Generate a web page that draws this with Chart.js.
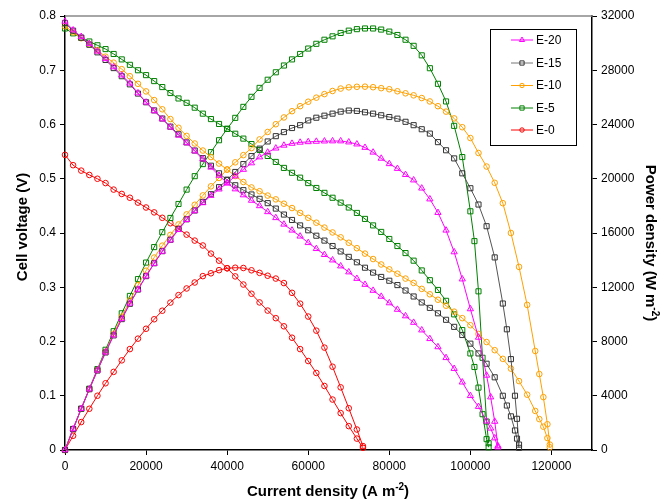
<!DOCTYPE html>
<html>
<head>
<meta charset="utf-8">
<script src="https://cdn.jsdelivr.net/npm/chart.js@4.4.0/dist/chart.umd.min.js"></script>
<style>
  html, body { margin: 0; padding: 0; background: #fff; }
  #wrap { width: 669px; height: 502px; position: relative; }
</style>
</head>
<body>
<div id="wrap"><canvas id="chart"></canvas></div>
<script>
// current density (A m-2), cell voltage (V), power density (W m-2) per membrane
const currentE20 = [0,2000,4000,6000,8000,10000,12000,14000,16000,18000,20000,22000,24000,26000,28000,30000,32000,34000,36000,38000,40000,42000,44000,46000,48000,50000,52000,54000,56000,58000,60000,62000,64000,66000,68000,70000,72000,74000,76000,78000,80000,82000,84000,86000,88000,90000,92000,94000,96000,98000,100000,102000,104000,105000,106000,106800];
const voltageE20 = [0.790,0.774,0.762,0.749,0.735,0.721,0.706,0.691,0.676,0.658,0.641,0.625,0.610,0.595,0.580,0.566,0.551,0.536,0.521,0.506,0.492,0.481,0.470,0.460,0.450,0.439,0.428,0.416,0.405,0.394,0.382,0.371,0.360,0.350,0.339,0.328,0.316,0.305,0.294,0.283,0.271,0.259,0.247,0.235,0.221,0.205,0.190,0.170,0.150,0.125,0.100,0.080,0.053,0.040,0.022,0.005];
const powerE20 = [0,1550,3050,4490,5880,7210,8470,9670,10820,11840,12820,13750,14640,15470,16240,16980,17630,18220,18760,19230,19680,20200,20680,21160,21600,21950,22250,22460,22600,22680,22720,22750,22770,22780,22780,22700,22550,22300,21950,21500,21100,20750,20300,19900,19300,18500,17500,16200,14600,12600,10400,8300,5500,3900,2100,300];

const currentE15 = [0,2000,4000,6000,8000,10000,12000,14000,16000,18000,20000,22000,24000,26000,28000,30000,32000,34000,36000,38000,40000,42000,44000,46000,48000,50000,52000,54000,56000,58000,60000,62000,64000,66000,68000,70000,72000,74000,76000,78000,80000,82000,84000,86000,88000,90000,92000,94000,96000,98000,100000,102000,104000,106000,108000,109000,110000,111000,111500,112000];
const voltageE15 = [0.787,0.773,0.760,0.747,0.733,0.719,0.704,0.689,0.674,0.657,0.641,0.626,0.611,0.596,0.582,0.567,0.552,0.538,0.524,0.510,0.498,0.488,0.479,0.471,0.463,0.455,0.445,0.434,0.424,0.414,0.405,0.395,0.386,0.376,0.366,0.356,0.346,0.336,0.327,0.319,0.312,0.304,0.294,0.283,0.272,0.262,0.252,0.240,0.227,0.212,0.196,0.178,0.159,0.134,0.100,0.082,0.062,0.036,0.021,0.004];
const powerE15 = [0,1550,3040,4480,5860,7190,8450,9650,10780,11830,12820,13770,14660,15500,16300,17010,17660,18290,18860,19380,19920,20500,21080,21670,22220,22750,23140,23440,23740,23950,24300,24500,24650,24800,24950,25030,25000,24900,24800,24680,24550,24430,24200,23950,23650,23330,22700,22100,21500,20400,19300,18100,16500,14200,10800,8900,6700,4000,2300,400];

const currentE10 = [0,2000,4000,6000,8000,10000,12000,14000,16000,18000,20000,22000,24000,26000,28000,30000,32000,34000,36000,38000,40000,42000,44000,46000,48000,50000,52000,54000,56000,58000,60000,62000,64000,66000,68000,70000,72000,74000,76000,78000,80000,82000,84000,86000,88000,90000,92000,94000,96000,98000,100000,102000,104000,106000,108000,110000,112000,114000,116000,117000,118000,119000,119600];
const voltageE10 = [0.781,0.770,0.759,0.748,0.737,0.725,0.714,0.702,0.689,0.675,0.661,0.645,0.628,0.610,0.594,0.579,0.565,0.552,0.540,0.528,0.517,0.505,0.494,0.484,0.477,0.469,0.462,0.454,0.446,0.437,0.428,0.419,0.410,0.401,0.392,0.382,0.372,0.362,0.352,0.342,0.333,0.325,0.316,0.308,0.297,0.287,0.277,0.266,0.255,0.243,0.230,0.214,0.199,0.184,0.168,0.150,0.127,0.102,0.072,0.057,0.043,0.022,0.005];
const powerE10 = [0,1540,3040,4490,5900,7250,8570,9830,11020,12150,13220,14190,15070,15860,16630,17370,18080,18770,19440,20060,20680,21210,21740,22260,22900,23450,24020,24520,24980,25350,25680,25980,26240,26470,26650,26740,26780,26790,26750,26680,26600,26450,26300,26150,25950,25700,25350,24950,24450,23800,23000,21900,20900,19700,18200,16000,13500,10700,7300,5600,3900,1900,400];

const currentE5 = [0,2000,4000,6000,8000,10000,12000,14000,16000,18000,20000,22000,24000,26000,28000,30000,32000,34000,36000,38000,40000,42000,44000,46000,48000,50000,52000,54000,56000,58000,60000,62000,64000,66000,68000,70000,72000,74000,76000,78000,80000,82000,84000,86000,88000,90000,92000,94000,96000,98000,100000,101000,102000,103000,104000,104500];
const voltageE5 = [0.777,0.768,0.760,0.753,0.746,0.739,0.730,0.720,0.710,0.700,0.691,0.680,0.669,0.658,0.648,0.640,0.631,0.620,0.610,0.601,0.592,0.583,0.574,0.564,0.553,0.542,0.531,0.520,0.511,0.502,0.492,0.483,0.474,0.465,0.456,0.447,0.437,0.426,0.414,0.402,0.389,0.376,0.363,0.349,0.331,0.313,0.295,0.275,0.250,0.221,0.178,0.153,0.115,0.066,0.020,0.005];
const powerE5 = [0,1540,3040,4520,5970,7390,8760,10080,11360,12600,13820,14960,16060,17110,18140,19200,20190,21080,21960,22840,23680,24490,25300,26040,26700,27300,27850,28350,28800,29200,29600,29950,30250,30500,30750,30920,31030,31080,31080,31000,30850,30600,30250,29800,29100,28150,27000,25700,23900,21600,17600,15400,11700,6800,2100,500];

const currentE0 = [0,2000,4000,6000,8000,10000,12000,14000,16000,18000,20000,22000,24000,26000,28000,30000,32000,34000,36000,38000,40000,42000,44000,46000,48000,50000,52000,54000,56000,58000,60000,62000,64000,66000,68000,70000,72000,73500];
const voltageE0 = [0.544,0.525,0.515,0.507,0.500,0.492,0.480,0.472,0.465,0.456,0.447,0.438,0.428,0.418,0.408,0.397,0.386,0.377,0.362,0.349,0.335,0.320,0.305,0.288,0.272,0.257,0.243,0.228,0.207,0.186,0.164,0.142,0.118,0.093,0.068,0.044,0.021,0.004];
const powerE0 = [0,1050,2060,3040,4000,4920,5760,6610,7440,8210,8940,9640,10270,10870,11420,11910,12350,12820,13030,13260,13400,13440,13420,13250,13060,12850,12640,12310,11590,10790,9840,8800,7550,6140,4620,3080,1510,290];

const seriesLabels = ['E-20', 'E-15', 'E-10', 'E-5', 'E-0'];
const xTicks = [0, 20000, 40000, 60000, 80000, 100000, 120000];

const series = [
  { label: 'E-20', cur: currentE20, v: voltageE20, p: powerE20, color: '#FF00FF', line: '#FF00FF', marker: 'triangle', r: 3.6 },
  { label: 'E-15', cur: currentE15, v: voltageE15, p: powerE15, color: '#333333', line: '#555555', marker: 'rect', r: 3.6 },
  { label: 'E-10', cur: currentE10, v: voltageE10, p: powerE10, color: '#FFA000', line: '#FFA000', marker: 'circle', r: 2.8 },
  { label: 'E-5',  cur: currentE5,  v: voltageE5,  p: powerE5,  color: '#008000', line: '#008000', marker: 'rect', r: 3.6 },
  { label: 'E-0',  cur: currentE0,  v: voltageE0,  p: powerE0,  color: '#FF0000', line: '#FF0000', marker: 'circle', r: 2.8 }
];

function toPoints(xs, ys) {
  return xs.map((x, i) => ({ x: x, y: ys[i] }));
}

const datasets = [];
series.forEach(s => {
  [['v', 'yV'], ['p', 'yP']].forEach(pair => {
    datasets.push({
      label: s.label,
      data: toPoints(s.cur, s[pair[0]]),
      yAxisID: pair[1],
      borderColor: s.line,
      borderWidth: 1,
      pointStyle: s.marker,
      pointRadius: s.r,
      pointBorderColor: s.color,
      pointBorderWidth: 1,
      pointBackgroundColor: 'rgba(255,255,255,0)',
      pointHoverRadius: s.r,
      fill: false,
      tension: 0,
      clip: false
    });
  });
});

const FONT = '"Liberation Sans", Arial, sans-serif';

// legend box, axis titles, grey top border
const decorPlugin = {
  id: 'decor',
  afterDraw(chart) {
    const ctx = chart.ctx;
    const area = chart.chartArea;
    ctx.save();

    ctx.strokeStyle = '#888888';
    ctx.lineWidth = 1.5;
    ctx.beginPath();
    ctx.moveTo(area.left, area.top);
    ctx.lineTo(area.right, area.top);
    ctx.stroke();

    // legend
    const bx = 490.5, by = 29.5, bw = 86, bh = 116;
    ctx.fillStyle = '#fff';
    ctx.fillRect(bx, by, bw, bh);
    ctx.strokeStyle = '#000';
    ctx.lineWidth = 1;
    ctx.strokeRect(bx, by, bw, bh);
    const rows = [40, 63, 85.5, 108, 130];
    series.forEach((s, i) => {
      const y = rows[i];
      ctx.strokeStyle = s.line === '#555555' ? '#777777' : s.line;
      ctx.lineWidth = 1;
      ctx.beginPath();
      ctx.moveTo(511, y);
      ctx.lineTo(533, y);
      ctx.stroke();
      ctx.strokeStyle = s.color;
      ctx.fillStyle = 'rgba(255,255,255,0)';
      Chart.helpers.drawPoint(ctx, { pointStyle: s.marker, radius: s.r - 0.6, borderWidth: 1 }, 522, y);
      ctx.fillStyle = '#000';
      ctx.font = '12px ' + FONT;
      ctx.textAlign = 'left';
      ctx.textBaseline = 'middle';
      ctx.fillText(s.label, 536, y + 0.5);
    });

    // axis titles
    ctx.fillStyle = '#000';
    ctx.textBaseline = 'middle';

    ctx.save();
    ctx.translate(23, 227);
    ctx.rotate(-Math.PI / 2);
    ctx.font = 'bold 15px ' + FONT;
    ctx.textAlign = 'center';
    ctx.fillText('Cell voltage (V)', 0, 0);
    ctx.restore();

    drawSupTitle(ctx, 'Current density (A m', '-2', ')', 328, 492, 0);
    drawSupTitle(ctx, 'Power density (W m', '-2', ')', 650, 243, Math.PI / 2);

    ctx.restore();
  }
};

function drawSupTitle(ctx, main, sup, tail, cx, cy, angle) {
  ctx.save();
  ctx.translate(cx, cy);
  ctx.rotate(angle);
  const big = 'bold 15px ' + FONT;
  const small = 'bold 10px ' + FONT;
  ctx.font = big;
  const w1 = ctx.measureText(main).width;
  const w3 = ctx.measureText(tail).width;
  ctx.font = small;
  const w2 = ctx.measureText(sup).width;
  let x = -(w1 + w2 + w3) / 2;
  ctx.textAlign = 'left';
  ctx.textBaseline = 'middle';
  ctx.font = big;
  ctx.fillText(main, x, 0);
  x += w1;
  ctx.font = small;
  ctx.fillText(sup, x, -5);
  x += w2;
  ctx.font = big;
  ctx.fillText(tail, x, 0);
  ctx.restore();
}

const tickFont = { family: FONT, size: 12 };

new Chart(document.getElementById('chart'), {
  type: 'line',
  data: { datasets: datasets },
  options: {
    responsive: true,
    maintainAspectRatio: false,
    animation: false,
    parsing: true,
    layout: { padding: { top: 16, right: 0, bottom: 0, left: 0 } },
    plugins: {
      legend: { display: false },
      tooltip: { enabled: false }
    },
    scales: {
      x: {
        type: 'linear',
        min: 0,
        max: 130000,
        afterBuildTicks: scale => { scale.ticks = xTicks.map(v => ({ value: v })); },
        ticks: { font: tickFont, color: '#000', padding: 4, maxRotation: 0, callback: v => String(v) },
        grid: { drawOnChartArea: false, tickLength: 5, color: '#000' },
        border: { color: '#000', width: 1.5 },
        afterFit: scale => { scale.height = 52; }
      },
      yV: {
        type: 'linear',
        position: 'left',
        min: 0,
        max: 0.8,
        ticks: { stepSize: 0.1, font: tickFont, color: '#000', padding: 4,
          callback: v => (Math.abs(v) < 1e-9 ? '0' : v.toFixed(1)) },
        grid: { drawOnChartArea: false, tickLength: 5, color: '#000' },
        border: { color: '#000', width: 1.5 },
        afterFit: scale => { scale.width = 65; }
      },
      yP: {
        type: 'linear',
        position: 'right',
        min: 0,
        max: 32000,
        ticks: { stepSize: 4000, font: tickFont, color: '#000', padding: 4, callback: v => String(v) },
        grid: { drawOnChartArea: false, tickLength: 5, color: '#000' },
        border: { color: '#000', width: 1.5 },
        afterFit: scale => { scale.width = 77; }
      }
    }
  },
  plugins: [decorPlugin]
});
</script>
</body>
</html>
